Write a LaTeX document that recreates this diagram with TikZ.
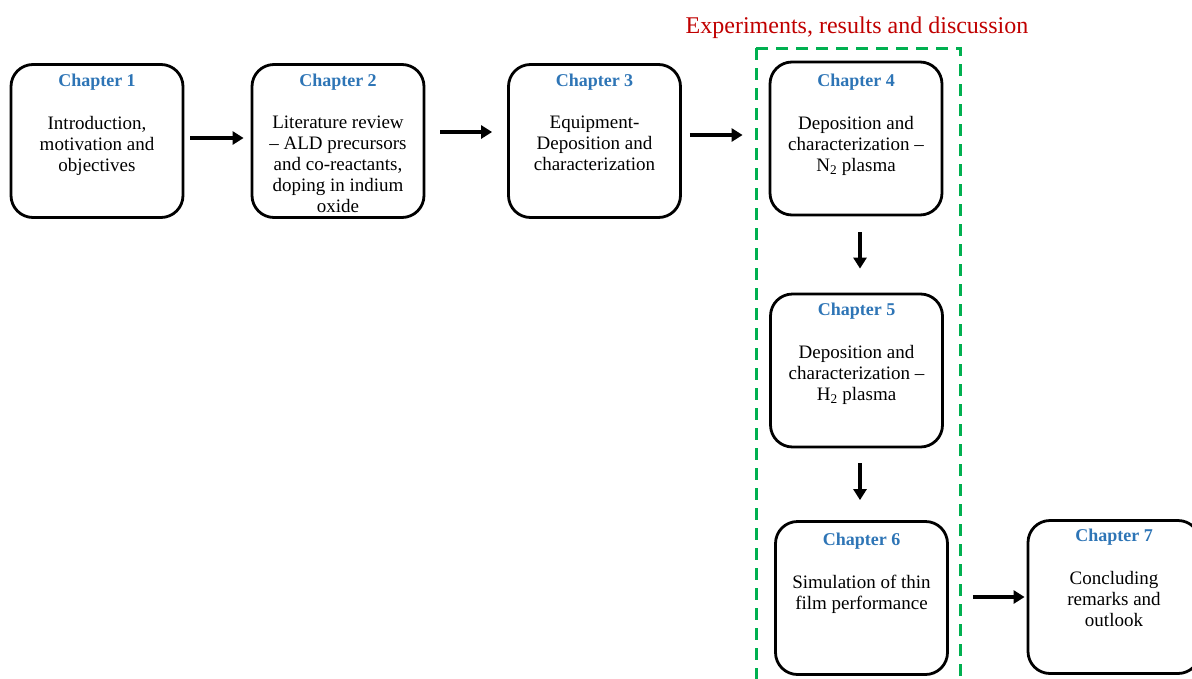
\documentclass[tikz,border=0pt]{standalone}
\usepackage{fontspec}
\setmainfont{Liberation Serif}
\usetikzlibrary{arrows.meta,calc}
\definecolor{chblue}{RGB}{46,117,182}
\definecolor{chred}{RGB}{192,0,0}
\definecolor{chgreen}{RGB}{0,176,80}
\begin{document}
\begin{tikzpicture}[x=1pt,y=-1pt,
  chbox/.style={draw=black,line width=2.8pt,rounded corners=22pt,minimum width=172pt,minimum height=153pt,inner sep=0pt},
  chtitle/.style={font=\fontsize{18}{20}\selectfont\bfseries,text=chblue,inner sep=0pt},
  chbody/.style={font=\fontsize{19}{21}\selectfont,align=center,inner sep=0pt,anchor=north},
  flow/.style={line width=3.6pt,-{Triangle[length=11pt,width=13pt]}},
]
\useasboundingbox (0,0) rectangle (1192,678);
\clip (0,0) rectangle (1192,678);
\node[chbox] (b1) at (97,141) {};
\node[chbox] (b2) at (338,141) {};
\node[chbox] (b3) at (594.5,141) {};
\node[chbox] (b4) at (856,138.5) {};
\node[chbox] (b5) at (856.5,370.5) {};
\node[chbox] (b6) at (861.5,598) {};
\node[chbox] (b7) at (1114,597) {};
\foreach \b/\n/\ty in {b1/1/82, b2/2/82, b3/3/82, b4/4/82, b5/5/311, b6/6/541, b7/7/537}{
  \node[chtitle] (t\n) at (\b.center |- 0,\ty) {Chapter \n};
}
\node[chbody] (x1) at (b1.center |- 0,116) {Introduction,\\motivation and\\objectives};
\node[chbody] (x2) at (b2.center |- 0,116) {Literature review\\– ALD precursors\\and co-reactants,\\doping in indium\\oxide};
\node[chbody] (x3) at (b3.center |- 0,116) {Equipment-\\Deposition and\\characterization};
\node[chbody] (x4) at (b4.center |- 0,116) {Deposition and\\characterization –\\N\textsubscript{2} plasma};
\node[chbody] (x5) at (b5.center |- 0,345) {Deposition and\\characterization –\\H\textsubscript{2} plasma};
\node[chbody] (x6) at (b6.center |- 0,575) {Simulation of thin\\film performance};
\node[chbody] (x7) at (b7.center |- 0,571) {Concluding\\remarks and\\outlook};
\draw[chgreen,line width=3pt,dash pattern=on 12pt off 8pt] (756,48) rectangle (960,700);
\node[text=chred,font=\fontsize{24}{28}\selectfont,inner sep=0pt] (head) at (857,28) {Experiments, results and discussion};
\draw[flow] ($(b1.east)+(6,-3)$) -- ($(b2.west)+(-7,-3)$);
\draw[flow] ($(b2.east)+(15,-9)$) -- ($(b3.west)+(-15,-9)$);
\draw[flow] ($(b3.east)+(8,-6)$) -- ($(b4.west)+(-26,-3.5)$);
\draw[flow] ($(b4.south)+(4,16)$) -- ($(b5.north)+(3.5,-24)$);
\draw[flow] ($(b5.south)+(3.5,15)$) -- ($(b6.north)+(-1.5,-20)$);
\draw[flow] ($(b6.east)+(24,-1)$) -- ($(b7.west)+(-2,0)$);
\end{tikzpicture}
\end{document}
